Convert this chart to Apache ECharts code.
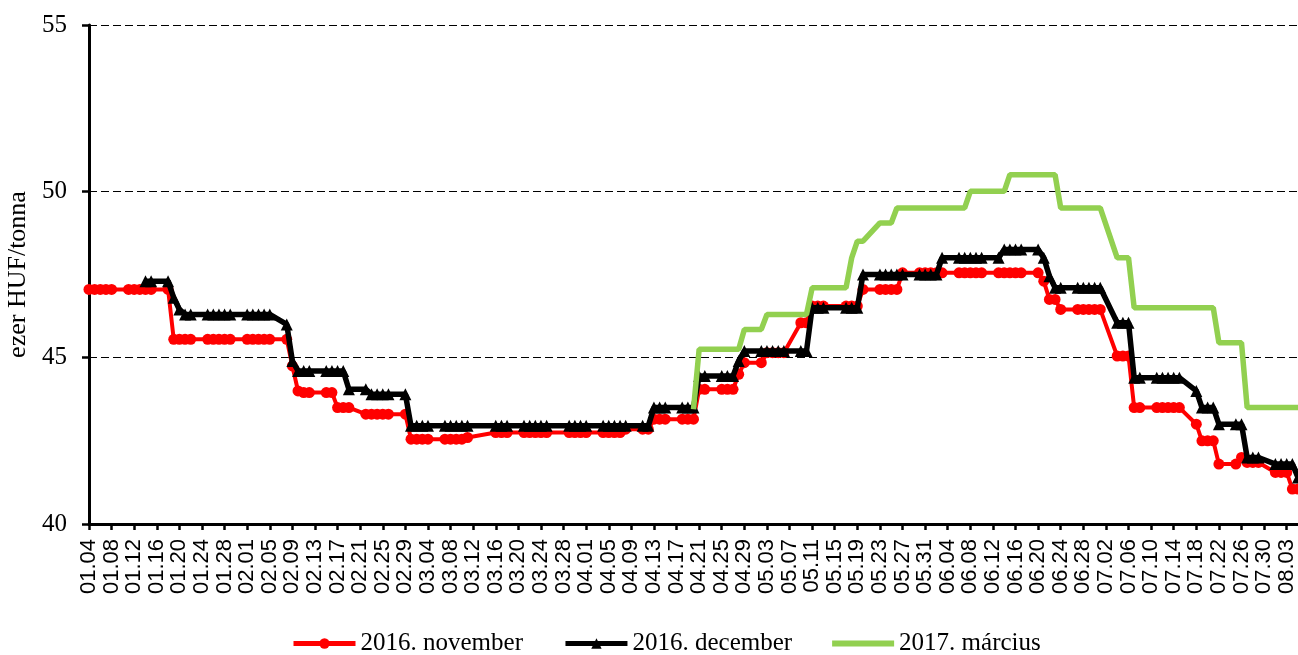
<!DOCTYPE html>
<html>
<head>
<meta charset="utf-8">
<script src="https://cdn.jsdelivr.net/npm/echarts@6/dist/echarts.min.js"></script>
<style>
  html, body { margin: 0; padding: 0; background: #fff; }
  #chart { width: 1298px; height: 655px; }
</style>
</head>
<body>
<div id="chart"></div>
<script>
// trading days of 2016 (MM.DD)
const tradeDays = [
  "01.04", "01.05", "01.06", "01.07", "01.08", "01.11", "01.12", "01.13", "01.14", "01.15",
  "01.18", "01.19", "01.20", "01.21", "01.22", "01.25", "01.26", "01.27", "01.28", "01.29",
  "02.01", "02.02", "02.03", "02.04", "02.05", "02.08", "02.09", "02.10", "02.11", "02.12",
  "02.15", "02.16", "02.17", "02.18", "02.19", "02.22", "02.23", "02.24", "02.25", "02.26", "02.29",
  "03.01", "03.02", "03.03", "03.04", "03.07", "03.08", "03.09", "03.10", "03.11", "03.16",
  "03.17", "03.18", "03.21", "03.22", "03.23", "03.24", "03.25", "03.29", "03.30", "03.31",
  "04.01", "04.04", "04.05", "04.06", "04.07", "04.08", "04.11", "04.12", "04.13", "04.14",
  "04.15", "04.18", "04.19", "04.20", "04.21", "04.22", "04.25", "04.26", "04.27", "04.28", "04.29",
  "05.02", "05.03", "05.04", "05.05", "05.06", "05.09", "05.10", "05.11", "05.12", "05.13",
  "05.17", "05.18", "05.19", "05.20", "05.23", "05.24", "05.25", "05.26", "05.27", "05.30", "05.31",
  "06.01", "06.02", "06.03", "06.06", "06.07", "06.08", "06.09", "06.10", "06.13", "06.14", "06.15",
  "06.16", "06.17", "06.20", "06.21", "06.22", "06.23", "06.24", "06.27", "06.28", "06.29", "06.30",
  "07.01", "07.04", "07.05", "07.06", "07.07", "07.08", "07.11", "07.12", "07.13", "07.14",
  "07.15", "07.18", "07.19", "07.20", "07.21", "07.22", "07.25", "07.26", "07.27", "07.28", "07.29",
  "08.01", "08.02", "08.03", "08.04", "08.05"
];

// 2016. november (from 01.04)
const novValues = [
  47.05, 47.05, 47.05, 47.05, 47.05, 47.05, 47.05, 47.05, 47.05, 47.05,
  47.05, 45.55, 45.55, 45.55, 45.55, 45.55, 45.55, 45.55, 45.55, 45.55,
  45.55, 45.55, 45.55, 45.55, 45.55, 45.55, 44.75, 44.0, 43.95, 43.95,
  43.95, 43.95, 43.5, 43.5, 43.5, 43.3, 43.3, 43.3, 43.3, 43.3, 43.3,
  42.55, 42.55, 42.55, 42.55, 42.55, 42.55, 42.55, 42.55, 42.6, 42.75,
  42.75, 42.75, 42.75, 42.75, 42.75, 42.75, 42.75, 42.75, 42.75, 42.75,
  42.75, 42.75, 42.75, 42.75, 42.75, 42.85, 42.85, 42.85, 43.15, 43.15,
  43.15, 43.15, 43.15, 43.15, 44.05, 44.05, 44.05, 44.05, 44.05, 44.5, 44.85,
  44.85, 45.15, 45.15, 45.15, 45.15, 46.05, 46.05, 46.55, 46.55, 46.55,
  46.55, 46.55, 46.55, 47.05, 47.05, 47.05, 47.05, 47.05, 47.55, 47.55, 47.55,
  47.55, 47.55, 47.55, 47.55, 47.55, 47.55, 47.55, 47.55, 47.55, 47.55, 47.55,
  47.55, 47.55, 47.55, 47.3, 46.75, 46.75, 46.45, 46.45, 46.45, 46.45, 46.45,
  46.45, 45.05, 45.05, 45.05, 43.5, 43.5, 43.5, 43.5, 43.5, 43.5,
  43.5, 43.0, 42.5, 42.5, 42.5, 41.8, 41.8, 42.0, 41.85, 41.85, 41.85,
  41.55, 41.55, 41.55, 41.05, 41.05
];

// 2016. december (from 01.14)
const decStart = "01.14";
const decValues = [
  47.3, 47.3,
  47.3, 46.8, 46.45, 46.3, 46.3, 46.3, 46.3, 46.3, 46.3, 46.3,
  46.3, 46.3, 46.3, 46.3, 46.3, 46.0, 44.9, 44.6, 44.6, 44.6,
  44.6, 44.6, 44.6, 44.6, 44.05, 44.05, 43.9, 43.9, 43.9, 43.9, 43.9,
  42.95, 42.95, 42.95, 42.95, 42.95, 42.95, 42.95, 42.95, 42.95, 42.95,
  42.95, 42.95, 42.95, 42.95, 42.95, 42.95, 42.95, 42.95, 42.95, 42.95,
  42.95, 42.95, 42.95, 42.95, 42.95, 42.95, 42.95, 42.95, 43.5, 43.5,
  43.5, 43.5, 43.5, 43.5, 44.45, 44.45, 44.45, 44.45, 44.45, 44.9, 45.2,
  45.2, 45.2, 45.2, 45.2, 45.2, 45.2, 45.2, 46.5, 46.5, 46.5,
  46.5, 46.5, 46.5, 47.5, 47.5, 47.5, 47.5, 47.5, 47.5, 47.5, 47.5,
  47.5, 47.5, 48.0, 48.0, 48.0, 48.0, 48.0, 48.0, 48.0, 48.25, 48.25,
  48.25, 48.25, 48.25, 48.0, 47.45, 47.1, 47.1, 47.1, 47.1, 47.1, 47.1,
  47.1, 46.05, 46.05, 46.05, 44.4, 44.4, 44.4, 44.4, 44.4, 44.4,
  44.4, 44.0, 43.5, 43.5, 43.5, 43.0, 43.0, 43.0, 42.0, 42.0, 42.0,
  41.8, 41.8, 41.8, 41.8, 41.4
];

// 2017. március (from 04.20)
const marStart = "04.20";
const marValues = [
  43.45, 45.25, 45.25, 45.25, 45.25, 45.25, 45.25, 45.85,
  45.85, 46.3, 46.3, 46.3, 46.3, 46.3, 46.3, 47.1, 47.1, 47.1,
  47.1, 48.0, 48.5, 48.5, 49.05, 49.05, 49.05, 49.5, 49.5, 49.5, 49.5,
  49.5, 49.5, 49.5, 49.5, 49.5, 50.0, 50.0, 50.0, 50.0, 50.0, 50.5,
  50.5, 50.5, 50.5, 50.5, 50.5, 50.5, 49.5, 49.5, 49.5, 49.5, 49.5,
  49.5, 48.0, 48.0, 48.0, 46.5, 46.5, 46.5, 46.5, 46.5, 46.5,
  46.5, 46.5, 46.5, 46.5, 46.5, 45.45, 45.45, 45.45, 43.5, 43.5, 43.5,
  43.5, 43.5, 43.5, 43.5, 43.5
];

const seriesNames = ["2016. november", "2016. december", "2017. március"];
const lastDay = "08.05";

const DAY = 86400000;
const origin = Date.UTC(2016, 0, 4);

function dayIndex(mmdd) {
  const [m, d] = mmdd.split(".").map(Number);
  return Math.round((Date.UTC(2016, m - 1, d) - origin) / DAY);
}

function dayLabel(idx) {
  const dt = new Date(origin + idx * DAY);
  const mm = String(dt.getUTCMonth() + 1).padStart(2, "0");
  const dd = String(dt.getUTCDate()).padStart(2, "0");
  return `${mm}.${dd}`;
}

function pairs(startDay, values) {
  const from = tradeDays.indexOf(startDay);
  return values.map((v, i) => [dayIndex(tradeDays[from + i]), v]);
}

const chart = echarts.init(document.getElementById("chart"));

chart.setOption({
  animation: false,
  backgroundColor: "#fff",
  grid: { left: 89, right: 0, top: 25, bottom: 131, containLabel: false, outerBoundsMode: "none" },
  legend: {
    data: [
      { name: seriesNames[0] },
      { name: seriesNames[1] },
      { name: seriesNames[2], icon: "path://M0,0H62V6H0Z" }
    ],
    top: 626,
    left: 286,
    itemWidth: 62,
    itemHeight: 13,
    itemGap: 40,
    lineStyle: { width: 5 },
    textStyle: { fontFamily: "Liberation Serif", fontSize: 25, color: "#000" }
  },
  xAxis: {
    type: "value",
    min: 0,
    max: dayIndex(lastDay),
    interval: 4,
    axisLine: { show: true, lineStyle: { color: "#000", width: 3 } },
    axisTick: { show: true, length: 6, lineStyle: { color: "#000", width: 2.5 } },
    axisLabel: {
      rotate: 90,
      margin: 15,
      showMaxLabel: false,
      fontFamily: "Liberation Sans",
      fontSize: 22,
      color: "#000",
      formatter: (v) => (v % 4 === 0 ? dayLabel(v) : "")
    },
    splitLine: { show: false }
  },
  yAxis: {
    type: "value",
    min: 40,
    max: 55,
    interval: 5,
    name: "ezer HUF/tonna",
    nameLocation: "middle",
    nameGap: 53,
    nameRotate: 90,
    nameTextStyle: { fontFamily: "Liberation Serif", fontSize: 26, color: "#000" },
    axisLine: { show: true, lineStyle: { color: "#000", width: 3 } },
    axisTick: { show: true, length: 7, lineStyle: { color: "#000", width: 2.5 } },
    axisLabel: { margin: 22, fontFamily: "Liberation Serif", fontSize: 25, color: "#000" },
    splitLine: { show: true, lineStyle: { color: "#000", width: 1.2, type: [8, 4] } }
  },
  series: [
    {
      name: seriesNames[0],
      type: "line",
      data: pairs(tradeDays[0], novValues),
      symbol: "circle",
      symbolSize: 11,
      lineStyle: { color: "#ff0000", width: 4 },
      itemStyle: { color: "#ff0000" },
      z: 2
    },
    {
      name: seriesNames[1],
      type: "line",
      data: pairs(decStart, decValues),
      symbol: "triangle",
      symbolSize: 12,
      lineStyle: { color: "#000", width: 5.5 },
      itemStyle: { color: "#000" },
      z: 3
    },
    {
      name: seriesNames[2],
      type: "line",
      data: pairs(marStart, marValues),
      symbol: "none",
      lineStyle: { color: "#92d050", width: 5.5 },
      itemStyle: { color: "#92d050" },
      z: 4
    }
  ]
});
</script>
</body>
</html>
